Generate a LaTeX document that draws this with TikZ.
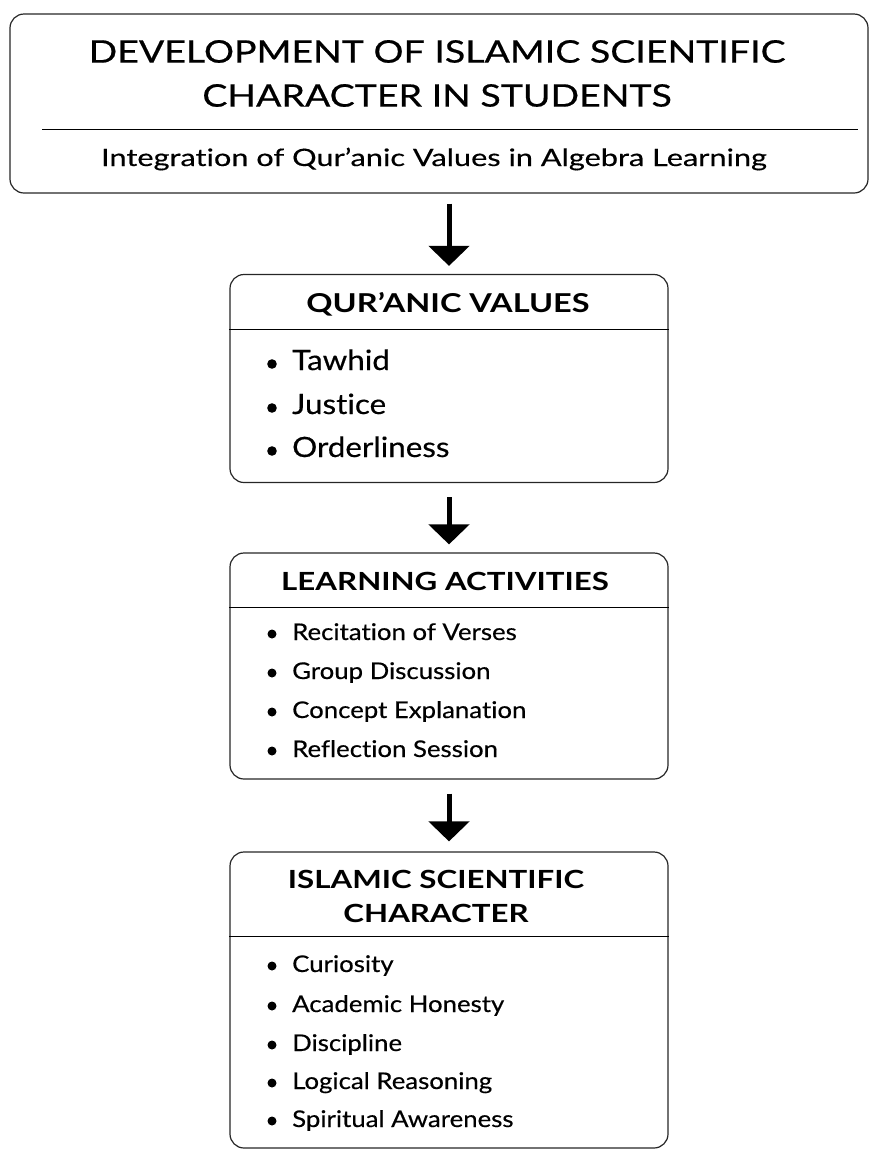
\documentclass[tikz,border=0pt]{standalone}
\usepackage{fontspec}
\setmainfont{Lato}[Ligatures=NoCommon, FakeStretch=1.12, FakeBold=0.4]
\newfontfamily\titlefont{Lato}[Ligatures=NoCommon, FakeStretch=1.21, FakeBold=0.6]
\newfontfamily\subfont{Lato}[Ligatures=NoCommon, FakeStretch=1.28, FakeBold=0.4]
\newfontfamily\headfont{Lato}[Ligatures=NoCommon, FakeStretch=1.25]
\usetikzlibrary{arrows.meta}

\tikzset{
	panel/.style={draw=black!85, line width=1.2pt, rounded corners=14pt, inner sep=0pt},
	heading/.style={font=\headfont\bfseries\fontsize{25}{34}\selectfont, align=center, inner sep=0pt},
	entry/.style={anchor=base west, inner sep=0pt},
	flow/.style={line width=5pt, -{Triangle[width=40pt,length=20pt]}},
}

\begin{document}
\begin{tikzpicture}[x=1pt, y=-1pt]
	\useasboundingbox (0,0) rectangle (874,1149);
	% title box
	\node[panel, minimum width=858pt, minimum height=179pt] (top) at (439,103.5) {};
	\node[font=\titlefont\fontsize{31}{44}\selectfont, align=center, inner sep=0pt] (maintitle) at (437,73.5) {DEVELOPMENT OF ISLAMIC SCIENTIFIC\\CHARACTER IN STUDENTS};
	\draw[line width=0.9pt] (42,129) -- (858,129);
	\node[font=\subfont\fontsize{24}{28}\selectfont, anchor=base, inner sep=0pt] (subtitle) at (434,166) {Integration of Qur’anic Values in Algebra Learning};

	% values
	\node[panel, minimum width=438pt, minimum height=208pt] (values) at (449,378.5) {};
	\node[heading, font=\headfont\bfseries\fontsize{26}{30}\selectfont, anchor=base] (valueshead) at (448,312) {QUR’ANIC VALUES};
	\draw[line width=0.9pt] (values.west |- 0,329) -- (values.east |- 0,329);
	\foreach \y/\t [count=\i] in {370/Tawhid, 414/Justice, 457/Orderliness} {
		\fill (272,\y-6) circle (4.8);
		\node[entry, font=\fontsize{28}{32}\selectfont] (val\i) at (292,\y) {\t};
	}

	% activities
	\node[panel, minimum width=438pt, minimum height=226pt] (acts) at (449,666) {};
	\node[heading, anchor=base] (actshead) at (445,590) {LEARNING ACTIVITIES};
	\draw[line width=0.9pt] (acts.west |- 0,607) -- (acts.east |- 0,607);
	\foreach \y/\t [count=\i] in {640/Recitation of Verses, 679/Group Discussion, 718/Concept Explanation, 757/Reflection Session} {
		\fill (272,\y-6) circle (4.5);
		\node[entry, font=\fontsize{23}{27}\selectfont] (act\i) at (292,\y) {\t};
	}

	% character
	\node[panel, minimum width=438pt, minimum height=296pt] (chars) at (449,1000) {};
	\node[heading] (charshead) at (436,896) {ISLAMIC SCIENTIFIC\\CHARACTER};
	\draw[line width=0.9pt] (chars.west |- 0,936) -- (chars.east |- 0,936);
	\foreach \y/\t [count=\i] in {972/Curiosity, 1012/Academic Honesty, 1051/Discipline, 1089/Logical Reasoning, 1127/Spiritual Awareness} {
		\fill (272,\y-6) circle (4.5);
		\node[entry, font=\fontsize{23}{27}\selectfont] (chr\i) at (292,\y) {\t};
	}

	% arrows
	\draw[flow, shorten <=10pt, shorten >=8pt] (values.north |- top.south) -- (values.north);
	\draw[flow, shorten <=14pt, shorten >=8pt] (values.south) -- (acts.north);
	\draw[flow, shorten <=14pt, shorten >=10pt] (acts.south) -- (chars.north);
\end{tikzpicture}
\end{document}
